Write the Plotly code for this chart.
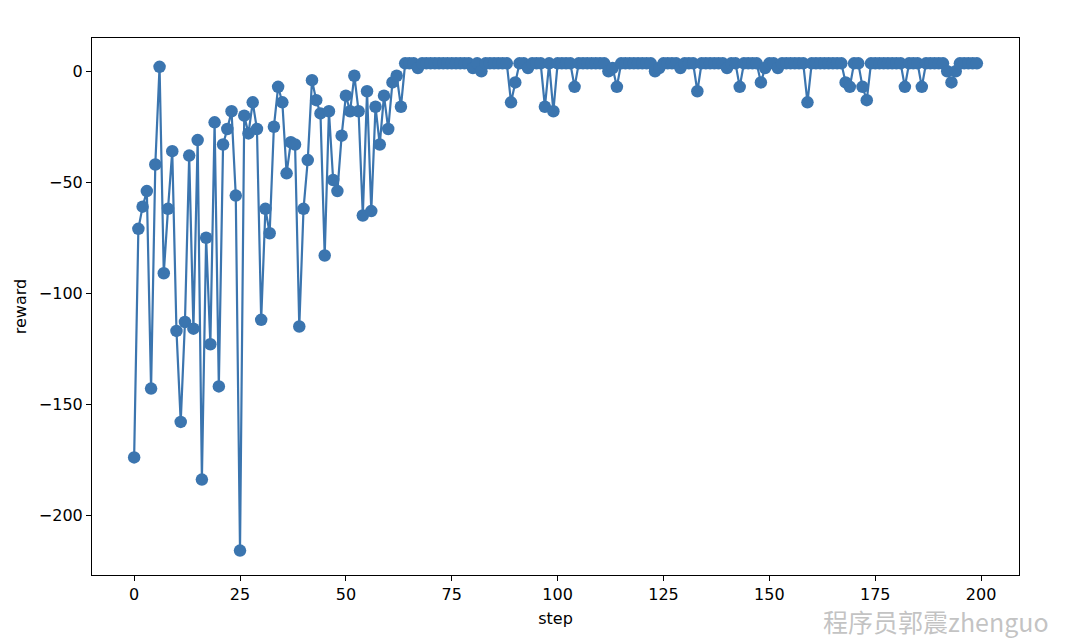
import plotly.graph_objects as go

steps = list(range(200))
reward = [
    -174, -71, -61, -54, -143, -42, 2, -91, -62, -36,
    -117, -158, -113, -38, -116, -31, -184, -75, -123, -23,
    -142, -33, -26, -18, -56, -216, -20, -28, -14, -26,
    -112, -62, -73, -25, -7, -14, -46, -32, -33, -115,
    -62, -40, -4, -13, -19, -83, -18, -49, -54, -29,
    -11, -18, -2, -18, -65, -9, -63, -16, -33, -11,
    -26, -5, -2, -16, 3.6, 3.6, 3.6, 1.5, 3.6, 3.6,
    3.6, 3.6, 3.6, 3.6, 3.6, 3.6, 3.6, 3.6, 3.6, 3.6,
    1.5, 3.6, 0, 3.6, 3.6, 3.6, 3.6, 3.6, 3.6, -14,
    -5, 3.6, 3.6, 1.5, 3.6, 3.6, 3.6, -16, 3.6, -18,
    3.6, 3.6, 3.6, 3.6, -7, 3.6, 3.6, 3.6, 3.6, 3.6,
    3.6, 3.6, 0, 1.5, -7, 3.6, 3.6, 3.6, 3.6, 3.6,
    3.6, 3.6, 3.6, 0, 1.5, 3.6, 3.6, 3.6, 3.6, 1.5,
    3.6, 3.6, 3.6, -9, 3.6, 3.6, 3.6, 3.6, 3.6, 3.6,
    1.5, 3.6, 3.6, -7, 3.6, 3.6, 3.6, 3.6, -5, 1.5,
    3.6, 3.6, 1.5, 3.6, 3.6, 3.6, 3.6, 3.6, 3.6, -14,
    3.6, 3.6, 3.6, 3.6, 3.6, 3.6, 3.6, 3.6, -5, -7,
    3.6, 3.6, -7, -13, 3.6, 3.6, 3.6, 3.6, 3.6, 3.6,
    3.6, 3.6, -7, 3.6, 3.6, 3.6, -7, 3.6, 3.6, 3.6,
    3.6, 3.6, 0, -5, 0, 3.6, 3.6, 3.6, 3.6, 3.6,
]
x_ticks = [0, 25, 50, 75, 100, 125, 150, 175, 200]
y_ticks = [0, -50, -100, -150, -200]

color = "#3b75af"
font_main = dict(family="DejaVu Sans", size=16, color="black")

fig = go.Figure()
fig.add_trace(go.Scatter(
    x=steps, y=reward, mode="lines+markers",
    line=dict(color=color, width=2.2),
    marker=dict(color=color, size=12.5),
    showlegend=False,
))

axis_common = dict(
    showline=True, linecolor="black", linewidth=1, mirror=True,
    ticks="outside", ticklen=5, tickcolor="black", tickwidth=1,
    showgrid=False, zeroline=False,
    tickfont=font_main,
)
fig.update_xaxes(range=[-9.95, 208.95], tickvals=x_ticks,
                 title=dict(text="step", font=font_main, standoff=9),
                 **axis_common)
fig.update_yaxes(range=[-227, 15], tickvals=y_ticks,
                 title=dict(text="reward", font=font_main, standoff=8),
                 **axis_common)

fig.add_annotation(
    text="程序员郭震zhenguo", xref="paper", yref="paper",
    x=1.035, y=-0.085, xanchor="right", yanchor="middle", showarrow=False,
    font=dict(family="Noto Sans CJK SC", size=25, color="rgba(175,175,175,0.75)"),
)

fig.update_layout(
    width=1072, height=631,
    margin=dict(l=84, r=61, t=30, b=64),
    plot_bgcolor="white", paper_bgcolor="white",
)
fig.write_html("out.html")
